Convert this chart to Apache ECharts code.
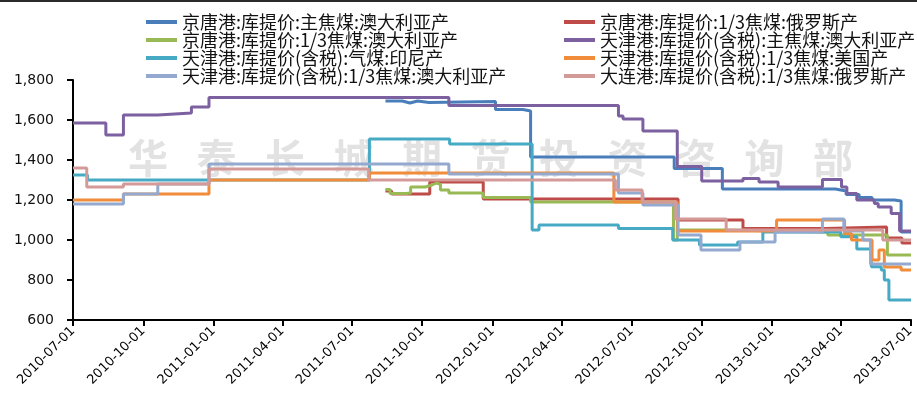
<!DOCTYPE html>
<html>
<head>
<meta charset="utf-8">
<script src="https://cdn.jsdelivr.net/npm/echarts@6/dist/echarts.min.js"></script>
<style>
  html, body { margin: 0; padding: 0; background: #fff; }
  #chart { width: 917px; height: 396px; }
</style>
</head>
<body>
<div id="chart"></div>
<script>
// Series names (legend order)
const seriesNames = [
  '京唐港:库提价:主焦煤:澳大利亚产',
  '京唐港:库提价:1/3焦煤:俄罗斯产',
  '京唐港:库提价:1/3焦煤:澳大利亚产',
  '天津港:库提价(含税):主焦煤:澳大利亚产',
  '天津港:库提价(含税):气煤:印尼产',
  '天津港:库提价(含税):1/3焦煤:美国产',
  '天津港:库提价(含税):1/3焦煤:澳大利亚产',
  '大连港:库提价(含税):1/3焦煤:俄罗斯产'
];

// Price change points [date, yuan/ton]; each value holds until the next date
const jtMainAus = [
  ['2011-08-14', 1695], ['2011-09-05', 1685], ['2011-09-15', 1695], ['2011-09-25', 1688],
  ['2011-10-10', 1692], ['2012-01-05', 1652], ['2012-02-10', 1645], ['2012-02-20', 1415],
  ['2012-08-26', 1357], ['2012-10-28', 1255], ['2013-03-25', 1245], ['2013-04-08', 1228],
  ['2013-04-25', 1212], ['2013-05-12', 1200], ['2013-06-10', 1195], ['2013-06-19', 1040],
  ['2013-07-02', 1040]
];
const jtThirdRus = [
  ['2011-08-14', 1245], ['2011-08-22', 1230], ['2011-10-11', 1290], ['2011-12-20', 1205],
  ['2012-08-31', 1100], ['2012-11-24', 1057], ['2013-03-12', 1065], ['2013-05-31', 1010],
  ['2013-06-20', 985], ['2013-07-02', 985]
];
const jtThirdAus = [
  ['2011-08-14', 1252], ['2011-08-20', 1232], ['2011-09-10', 1235], ['2011-09-16', 1265],
  ['2011-10-05', 1275], ['2011-10-14', 1285], ['2011-10-20', 1278], ['2011-10-25', 1250],
  ['2011-11-05', 1235], ['2011-12-20', 1212], ['2012-02-20', 1190], ['2012-08-25', 1000],
  ['2012-08-30', 1050], ['2012-11-01', 1040], ['2013-03-15', 1025], ['2013-06-01', 925],
  ['2013-07-02', 925]
];
const tjMainAus = [
  ['2010-07-01', 1585], ['2010-08-13', 1525], ['2010-09-05', 1625], ['2010-10-20', 1635],
  ['2010-12-03', 1665], ['2010-12-26', 1712], ['2011-11-05', 1672], ['2012-06-14', 1620],
  ['2012-06-20', 1605], ['2012-07-16', 1545], ['2012-08-30', 1368], ['2012-10-01', 1295],
  ['2012-11-24', 1307], ['2012-12-15', 1290], ['2013-01-09', 1265], ['2013-03-08', 1302],
  ['2013-04-02', 1265], ['2013-04-09', 1232], ['2013-04-22', 1200], ['2013-05-15', 1183],
  ['2013-05-20', 1165], ['2013-06-06', 1133], ['2013-06-17', 1045], ['2013-07-02', 1045]
];
const tjGasIndo = [
  ['2010-07-01', 1325], ['2010-07-20', 1300], ['2011-07-24', 1505], ['2011-11-06', 1480],
  ['2012-02-22', 1050], ['2012-03-02', 1075], ['2012-06-14', 1057], ['2012-08-24', 1000],
  ['2012-09-28', 975], ['2012-11-17', 990], ['2012-12-20', 1040], ['2013-04-01', 1016],
  ['2013-04-22', 955], ['2013-05-11', 866], ['2013-05-24', 850], ['2013-05-28', 800],
  ['2013-06-03', 700], ['2013-07-02', 700]
];
const tjThirdUs = [
  ['2010-07-01', 1200], ['2010-09-05', 1230], ['2010-12-26', 1300], ['2011-07-24', 1335],
  ['2012-06-08', 1190], ['2012-08-30', 1045], ['2013-01-07', 1100], ['2013-04-06', 1032],
  ['2013-04-15', 1000], ['2013-05-12', 900], ['2013-05-21', 950], ['2013-05-28', 865],
  ['2013-06-19', 850], ['2013-07-02', 850]
];
const tjThirdAus = [
  ['2010-07-01', 1180], ['2010-09-05', 1230], ['2010-10-20', 1280], ['2010-12-26', 1380],
  ['2011-11-05', 1330], ['2012-06-14', 1235], ['2012-07-16', 1175], ['2012-08-31', 1025],
  ['2012-09-30', 950], ['2012-11-20', 990], ['2013-01-05', 1040], ['2013-03-08', 1105],
  ['2013-04-05', 1045], ['2013-04-30', 1000], ['2013-05-10', 880], ['2013-07-02', 880]
];
const dlThirdRus = [
  ['2010-07-01', 1360], ['2010-07-19', 1265], ['2010-09-05', 1280], ['2010-12-26', 1355],
  ['2011-07-23', 1300], ['2012-06-10', 1250], ['2012-07-15', 1190], ['2012-08-28', 1105],
  ['2012-11-02', 1050], ['2013-05-26', 1000], ['2013-07-02', 1000]
];

const seriesData = [jtMainAus, jtThirdRus, jtThirdAus, tjMainAus, tjGasIndo, tjThirdUs, tjThirdAus, dlThirdRus];
const seriesColors = ['#4A7EBB', '#BE4B48', '#98B954', '#7D60A0', '#46AAC5', '#F08C3A', '#93A9CF', '#D39A98'];

// Quarterly date ticks
const tickDates = ['2010-07-01', '2010-10-01', '2011-01-01', '2011-04-01', '2011-07-01', '2011-10-01',
  '2012-01-01', '2012-04-01', '2012-07-01', '2012-10-01', '2013-01-01', '2013-04-01', '2013-07-01'];
const yTicks = { min: 600, max: 1800, step: 200 };
const watermark = '华泰长城期货投资咨询部';

// Dates are placed on a numeric axis as UTC day timestamps
const ts = d => Date.parse(d + 'T00:00:00Z');
const tickValues = tickDates.map(ts);
const fmtDate = v => new Date(v).toISOString().slice(0, 10);

const chart = echarts.init(document.getElementById('chart'), null, { renderer: 'canvas' });

const markChars = watermark.split('').map((ch, i) => ({
  type: 'text',
  x: 148 + i * 68.5,
  y: 158,
  style: {
    text: ch,
    font: 'bold 40px "Noto Sans CJK SC"',
    fill: '#e2e2e2',
    align: 'center',
    verticalAlign: 'middle'
  }
}));

const legendText = {
  fontFamily: '"Noto Sans CJK SC", sans-serif',
  fontSize: 18,
  color: '#111',
  lineHeight: 18
};

chart.setOption({
  animation: false,
  backgroundColor: '#fff',
  color: seriesColors,
  graphic: [
    { type: 'group', z: -10, silent: true, children: markChars },
    { type: 'line', shape: { x1: 0, y1: 1, x2: 917, y2: 1 }, style: { stroke: '#2a2a2a', lineWidth: 2 } }
  ],
  legend: [
    {
      orient: 'vertical', left: 141, top: 8, itemWidth: 31, itemHeight: 4, itemGap: 0,
      icon: 'rect', textStyle: legendText,
      data: [seriesNames[0], seriesNames[2], seriesNames[4], seriesNames[6]]
    },
    {
      orient: 'vertical', left: 559, top: 8, itemWidth: 31, itemHeight: 4, itemGap: 0,
      icon: 'rect', textStyle: legendText,
      data: [seriesNames[1], seriesNames[3], seriesNames[5], seriesNames[7]]
    }
  ],
  grid: { left: 73, right: 0, top: 80, bottom: 76, containLabel: false },
  xAxis: {
    type: 'value',
    min: ts('2010-07-01'),
    max: ts('2013-07-02'),
    splitLine: { show: false },
    axisLine: { show: true, lineStyle: { color: '#000', width: 2 } },
    axisTick: { show: true, customValues: tickValues, length: 6, lineStyle: { color: '#000', width: 2 } },
    axisLabel: {
      customValues: tickValues,
      rotate: 45,
      margin: 9,
      color: '#000',
      fontFamily: '"DejaVu Sans", sans-serif',
      fontSize: 13,
      formatter: v => fmtDate(v)
    }
  },
  yAxis: {
    type: 'value',
    min: yTicks.min,
    max: yTicks.max,
    interval: yTicks.step,
    splitLine: { show: false },
    axisLine: { show: true, lineStyle: { color: '#000', width: 2 } },
    axisTick: { show: true, length: 6, lineStyle: { color: '#000', width: 2 } },
    axisLabel: {
      margin: 19,
      color: '#111',
      fontFamily: '"DejaVu Sans", sans-serif',
      fontSize: 14,
      formatter: v => v.toLocaleString('en-US')
    }
  },
  series: seriesNames.map((name, i) => ({
    name,
    type: 'line',
    step: 'end',
    showSymbol: false,
    symbol: 'none',
    data: seriesData[i].map(p => [ts(p[0]), p[1]]),
    lineStyle: { width: 3, color: seriesColors[i] },
    itemStyle: { color: seriesColors[i] }
  }))
});
</script>
</body>
</html>
